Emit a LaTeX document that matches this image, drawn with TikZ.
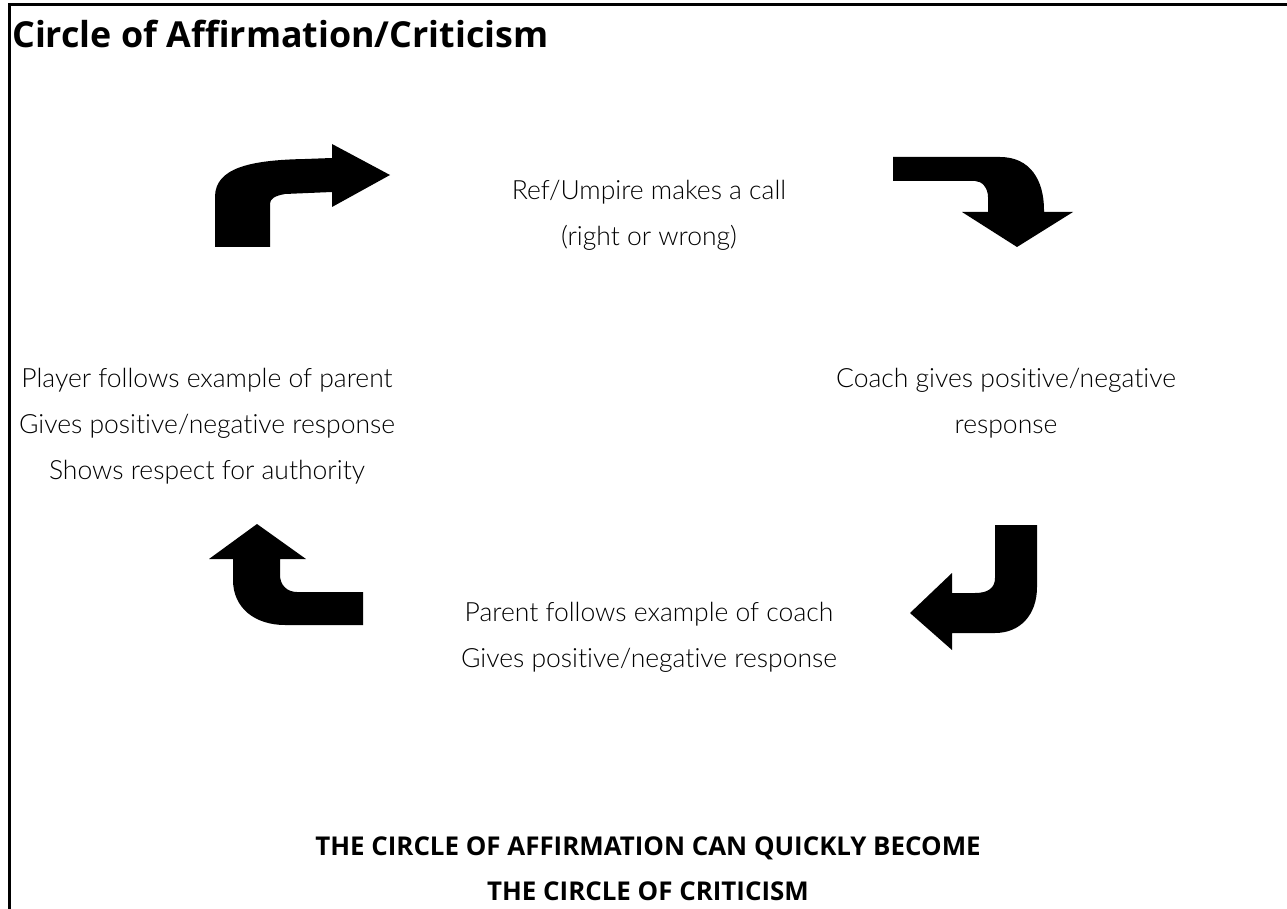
\documentclass[tikz,border=0pt]{standalone}
\usepackage{fontspec}
\setmainfont{Open Sans}
\newfontfamily\bodyfont[Ligatures=NoCommon]{Lato Light}
\newfontfamily\boldfont{Open Sans Bold}
\begin{document}
\begin{tikzpicture}[x=1pt,y=-1pt,
  body/.style={font=\bodyfont\fontsize{26.5}{46}\selectfont, align=center, inner sep=0pt, anchor=center},
  caps/.style={font=\boldfont\fontsize{25.9}{45}\selectfont, align=center, inner sep=0pt},
  bentarrow/.style={fill=black, draw=none}]
\useasboundingbox (0,0) rectangle (1287,909);
\draw[line width=3pt] (9,909) -- (9,5) -- (1287,5);
\node[font=\boldfont\fontsize{35.8}{40}\selectfont, anchor=west, inner sep=0pt] (title) at (12,34) {Circle of Affirmation/Criticism};
\node[body] (ref) at (649,215) {Ref/Umpire makes a call\\(right or wrong)};
\node[body] (coach) at (1006,403) {Coach gives positive/negative\\response};
\node[body] (player) at (207,426) {Player follows example of parent\\Gives positive/negative response\\Shows respect for authority};
\node[body] (parent) at (649,637) {Parent follows example of coach\\Gives positive/negative response};
\node[caps] (msg) at (648,869) {THE CIRCLE OF AFFIRMATION CAN QUICKLY BECOME\\THE CIRCLE OF CRITICISM};
% top-left arrow
\fill[bentarrow] (215,247) -- (215,197) .. controls (215,168) and (250,160) .. (305,159) -- (332,158) -- (332,144) -- (390,175) -- (332,207) -- (332,192) -- (285,194) .. controls (274,196) and (270,199) .. (270,204) -- (270,247) -- cycle;
% top-right arrow
\fill[bentarrow] (893,157) -- (1000,157) .. controls (1030,157) and (1044,180) .. (1044,210) -- (1044,212) -- (1073,212) -- (1017,247) -- (962,212) -- (988,212) -- (988,197) .. controls (988,188) and (982,181) .. (975,181) -- (893,181) -- cycle;
% bottom-right arrow
\fill[bentarrow] (995,525) -- (1037,525) -- (1037,587) .. controls (1037,615) and (1020,633) .. (995,633) -- (952,633) -- (952,650) -- (910,613) -- (952,573) -- (952,593) -- (975,593) .. controls (988,593) and (995,588) .. (995,578) -- cycle;
% bottom-left arrow
\fill[bentarrow] (363,592) -- (297,592) .. controls (287,592) and (280,585) .. (280,575) -- (280,559) -- (306,559) -- (257,524) -- (209,559) -- (233,559) -- (233,580) .. controls (233,608) and (255,625) .. (285,625) -- (363,625) -- cycle;
\end{tikzpicture}
\end{document}
